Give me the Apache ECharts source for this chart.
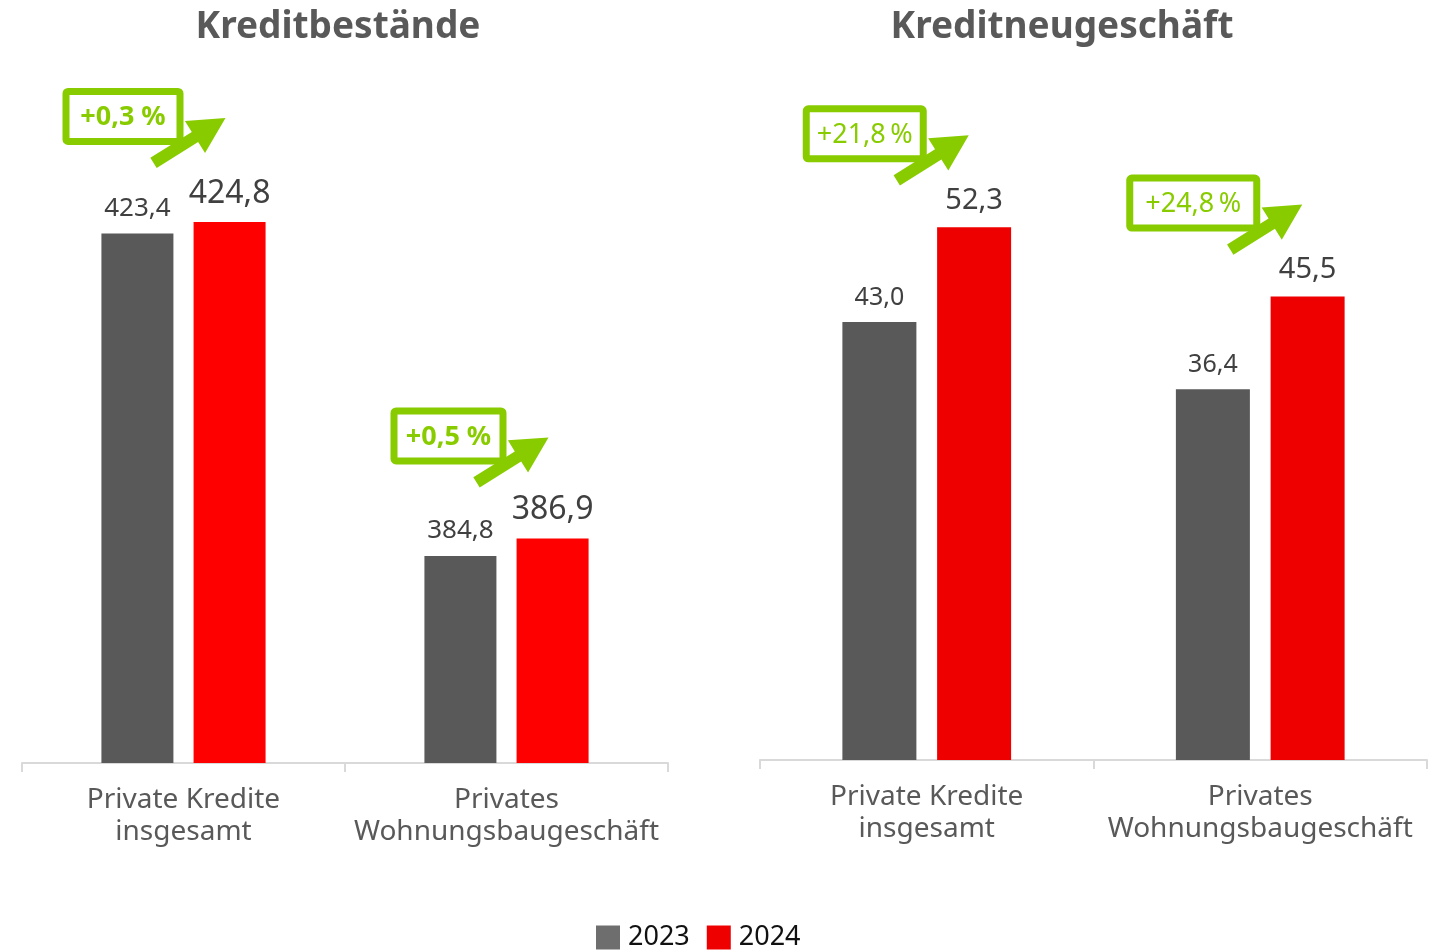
<!DOCTYPE html>
<html>
<head>
<meta charset="utf-8">
<script src="https://cdn.jsdelivr.net/npm/echarts@6/dist/echarts.min.js"></script>
<style>
  html, body { margin: 0; padding: 0; background: #fff; }
  #main { width: 1440px; height: 950px; }
</style>
</head>
<body>
<div id="main"></div>
<script>
// data
const categories = ['Private Kredite\ninsgesamt', 'Privates\nWohnungsbaugeschäft']
const bestand2023 = [423.4, 384.8]
const bestand2024 = [424.8, 386.9]
const neu2023 = [43.0, 36.4]
const neu2024 = [52.3, 45.5]
const bestandChange = ['+0,3 %', '+0,5 %']
const neuChange = ['+21,8\u2009%', '+24,8\u2009%']

const FONT = '"Noto Sans", "Open Sans", sans-serif'
const GRAY = '#595959'
const GREEN = '#88CC00'

const chartDom = document.getElementById('main')
const myChart = echarts.init(chartDom)

const fmt = function (p) {
  return p.value.toFixed(1).replace('.', ',')
}

function xAxisFor(gridIndex) {
  return {
    type: 'category',
    gridIndex: gridIndex,
    data: categories,
    axisLine: { lineStyle: { color: '#D9D9D9', width: 2 } },
    axisTick: { show: true, length: 9, lineStyle: { color: '#D9D9D9', width: 2 } },
    axisLabel: {
      color: GRAY,
      fontFamily: FONT,
      fontSize: 28,
      lineHeight: 32,
      margin: 21,
      interval: 0
    }
  }
}

function barSeries(name, data, xi, color, fontSize) {
  return {
    name: name,
    type: 'bar',
    xAxisIndex: xi,
    yAxisIndex: xi,
    data: data,
    barWidth: xi === 0 ? 72 : 74,
    barGap: '28%',
    itemStyle: { color: color },
    label: {
      show: true,
      position: 'top',
      distance: 12,
      formatter: fmt,
      color: '#404040',
      fontFamily: FONT,
      fontSize: fontSize
    }
  }
}

const option = {
  animation: false,
  textStyle: { fontFamily: FONT },
  title: [
    {
      text: 'Kreditbestände',
      left: 333,
      textAlign: 'center',
      top: 4,
      textStyle: { fontSize: 37, fontWeight: 'bold', color: GRAY, fontFamily: FONT }
    },
    {
      text: 'Kreditneugeschäft',
      left: 1057,
      textAlign: 'center',
      top: 4,
      textStyle: { fontSize: 37, fontWeight: 'bold', color: GRAY, fontFamily: FONT }
    }
  ],
  legend: {
    left: 596,
    top: 924,
    padding: 0,
    itemWidth: 24,
    itemHeight: 24,
    itemGap: 17,
    icon: 'rect',
    data: [
      { name: '2023', itemStyle: { color: '#6E6E6E' } },
      { name: '2024', itemStyle: { color: '#EE0000' } }
    ],
    textStyle: { color: '#111', fontSize: 27, fontFamily: FONT, padding: [0, 0, 0, 3] }
  },
  grid: [
    { left: 22, width: 646, top: 95, height: 668 },
    { left: 760, width: 667, top: 98, height: 662 }
  ],
  xAxis: [xAxisFor(0), xAxisFor(1)],
  yAxis: [
    { type: 'value', gridIndex: 0, min: 360, max: 440, show: false, splitLine: { show: false } },
    { type: 'value', gridIndex: 1, min: 0, max: 65, show: false, splitLine: { show: false } }
  ],
  series: [
    barSeries('2023', bestand2023, 0, GRAY, 26),
    barSeries('2024', bestand2024, 0, '#FF0000', 32),
    barSeries('2023', neu2023, 1, GRAY, 25),
    barSeries('2024', neu2024, 1, '#EE0000', 29)
  ]
}

myChart.setOption(option)

// green callouts with arrows, anchored on each category centre / 2024 bar top
function arrowPoints(sx, sy, tx, ty) {
  const dx = tx - sx
  const dy = ty - sy
  const len = Math.sqrt(dx * dx + dy * dy)
  const ux = dx / len
  const uy = dy / len
  const nx = -uy
  const ny = ux
  const w = 6
  const hw = 19
  const hl = 36
  const bx = tx - ux * hl
  const by = ty - uy * hl
  return [
    [sx + nx * w, sy + ny * w],
    [bx + nx * w, by + ny * w],
    [bx + nx * hw, by + ny * hw],
    [tx, ty],
    [bx - nx * hw, by - ny * hw],
    [bx - nx * w, by - ny * w],
    [sx - nx * w, sy - ny * w]
  ]
}

const graphics = []
function addCallout(gridIndex, catIndex, value, text, boxW, offsetY, bold) {
  const p = myChart.convertToPixel({ gridIndex: gridIndex }, [catIndex, value])
  const right = p[0]
  const top = p[1] - offsetY
  const left = right - boxW
  const h = 57
  graphics.push({
    type: 'polygon',
    z: 10,
    shape: { points: arrowPoints(right - 30, top + 75, right + 42, top + 30) },
    style: { fill: GREEN }
  })
  graphics.push({
    type: 'rect',
    z: 11,
    shape: { x: left + 3.5, y: top + 3.5, width: boxW - 7, height: h - 7, r: 2 },
    style: { fill: '#fff', stroke: GREEN, lineWidth: 7 }
  })
  graphics.push({
    type: 'text',
    z: 12,
    style: {
      x: left + boxW / 2,
      y: top + h / 2 + 1,
      text: text,
      fill: GREEN,
      font: (bold ? 'bold ' : '') + '27px ' + FONT,
      textAlign: 'center',
      textVerticalAlign: 'middle'
    }
  })
}

addCallout(0, 0, bestand2024[0], bestandChange[0], 121, 134, true)
addCallout(0, 1, bestand2024[1], bestandChange[1], 116, 131, true)
addCallout(1, 0, neu2024[0], neuChange[0], 124, 122, false)
addCallout(1, 1, neu2024[1], neuChange[1], 134, 122, false)

myChart.setOption({ graphic: graphics })
</script>
</body>
</html>
